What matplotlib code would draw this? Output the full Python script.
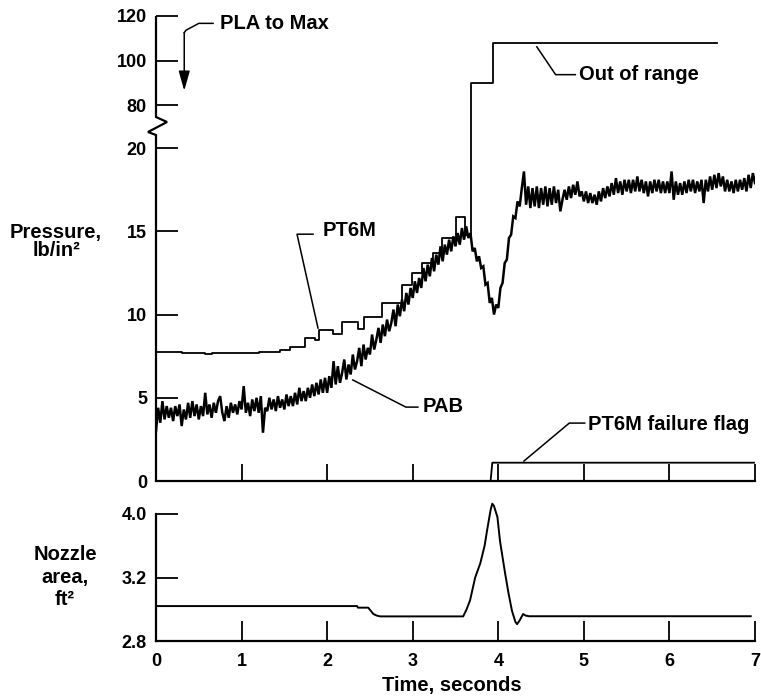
import numpy as np
import matplotlib
matplotlib.use("Agg")
import matplotlib.pyplot as plt
from matplotlib.patches import ArrowStyle

plt.rcParams['font.family'] = ['Liberation Sans', 'DejaVu Sans']
plt.rcParams['font.weight'] = 'bold'

# ---------------- data ----------------
time_ticks = [0, 1, 2, 3, 4, 5, 6, 7]
p_ticks = [0, 5, 10, 15, 20, 80, 100, 120]
n_ticks = [2.8, 3.2, 4.0]

# PAB (noisy trace), sampled every 0.025 s from 0 to 7 s
pab_v = [
    3.0, 4.4, 3.5, 4.8, 3.7, 4.5, 3.8, 4.4, 3.6, 4.5, 3.9, 4.6, 3.3, 4.3, 3.7, 4.7, 3.8, 4.8, 3.9, 4.6,
    3.7, 4.5, 3.9, 5.3, 4.0, 4.6, 3.8, 4.7, 4.1, 4.8, 5.1, 4.1, 3.6, 4.5, 3.8, 4.7, 4.1, 4.6, 4.0, 4.8,
    4.3, 5.7, 4.1, 4.7, 3.9, 4.9, 4.2, 5.0, 4.1, 5.1, 2.9, 4.4, 4.2, 5.0, 4.3, 4.9, 4.2, 5.1, 4.4, 4.9,
    4.3, 5.2, 4.5, 5.1, 4.5, 5.3, 4.6, 5.6, 4.8, 5.4, 4.8, 5.6, 5.0, 5.8, 5.1, 5.9, 5.2, 6.1, 5.3, 6.2,
    5.3, 6.3, 5.6, 7.2, 5.8, 6.9, 5.9, 6.5, 7.3, 6.1, 7.0, 6.4, 7.6, 6.7, 7.2, 8.0, 6.9, 8.2, 7.3, 8.0,
    7.6, 8.8, 7.9, 8.5, 9.2, 8.3, 9.4, 8.7, 9.7, 9.0, 9.5, 10.3, 9.3, 10.6, 9.9, 10.9, 10.2, 11.3, 10.6, 11.6,
    11.0, 12.0, 11.3, 12.2, 11.6, 12.8, 12.0, 13.0, 12.3, 13.4, 12.6, 13.6, 13.0, 14.1, 13.2, 14.2, 13.6, 14.5, 13.8, 14.7,
    14.1, 14.9, 14.2, 15.2, 14.5, 15.3, 14.6, 14.9, 13.8, 14.0, 13.2, 13.5, 12.8, 12.9, 11.8, 11.9, 10.7, 11.0, 10.0, 10.6,
    10.4, 11.6, 11.9, 13.1, 13.3, 14.6, 14.8, 15.9, 15.8, 16.8, 16.5, 17.6, 18.6, 16.6, 17.7, 16.4, 17.6, 16.5, 17.7, 16.4,
    17.6, 16.6, 17.7, 16.5, 17.6, 16.6, 17.7, 16.7, 17.5, 16.2, 16.9, 17.5, 16.9, 17.7, 17.0, 17.8, 17.2, 18.0, 17.1, 17.4,
    16.8, 17.4, 16.7, 17.3, 16.7, 17.2, 16.6, 17.4, 16.8, 17.6, 17.0, 17.7, 17.1, 17.9, 17.2, 18.2, 17.3, 18.0, 17.2, 18.1,
    17.4, 18.1, 17.3, 18.1, 17.4, 18.3, 17.4, 18.1, 17.3, 18.0, 17.1, 18.0, 17.3, 18.1, 17.4, 18.1, 17.3, 18.0, 17.3, 18.0,
    17.3, 18.6, 16.9, 18.0, 17.2, 17.9, 17.2, 18.0, 17.3, 18.1, 17.4, 18.1, 17.3, 18.0, 17.4, 18.1, 16.7, 18.1, 17.4, 18.3,
    17.5, 18.4, 17.6, 18.5, 17.7, 18.3, 17.4, 18.1, 17.4, 18.0, 17.3, 18.1, 17.4, 18.1, 17.5, 18.2, 17.4, 18.4, 17.6, 18.5,
    17.9,
]
pab_t = np.linspace(0, 7, len(pab_v))

# PT6M (stepped sensor trace, incl. out-of-range values)
pt6m_t = [0, 0.3, 0.57, 0.65, 0.9, 1.2, 1.45, 1.57, 1.74, 1.86, 1.91, 2.07, 2.17, 2.36, 2.43,
          2.64, 2.87, 2.99, 3.11, 3.24, 3.34, 3.50, 3.61, 3.68, 3.94, 6.56]
pt6m_v = [7.75, 7.72, 7.63, 7.68, 7.72, 7.75, 7.9, 8.05, 8.6, 8.45, 9.1, 8.85, 9.55, 9.15, 9.85,
          10.7, 11.8, 12.5, 13.1, 13.7, 14.6, 15.85, 14.8, 89.9, 107.8, 107.8]

# PT6M failure flag
flag_t = [0, 3.91, 3.93, 7.0]
flag_v = [0, 0, 1.1, 1.1]

# Nozzle area, ft^2
noz_t = [0, 2.35, 2.36, 2.48, 2.54, 2.58, 2.62, 3.59, 3.63, 3.67, 3.73, 3.79, 3.84, 3.87, 3.91,
         3.93, 3.95, 3.99, 4.02, 4.08, 4.12, 4.16, 4.20, 4.22, 4.25, 4.29, 4.32, 4.36, 6.95]
noz_v = [3.02, 3.02, 3.01, 3.01, 2.97, 2.96, 2.955, 2.955, 3.0, 3.056, 3.2, 3.38, 3.6, 3.80, 4.05,
         4.13, 4.10, 3.96, 3.66, 3.25, 3.1, 2.99, 2.92, 2.906, 2.93, 2.97, 2.96, 2.956, 2.956]

# ---------------- scales ----------------
def p_fwd(v):
    v = np.asarray(v, float)
    return np.where(v <= 20, v, np.where(v < 80, 20 + (v - 20) * (2.58 / 60), 22.58 + (v - 80) * 0.134))

def p_inv(m):
    m = np.asarray(m, float)
    return np.where(m <= 20, m, np.where(m < 22.58, 20 + (m - 20) * (60 / 2.58), 80 + (m - 22.58) / 0.134))

def n_fwd(v):
    v = np.asarray(v, float)
    return np.where(v < 3.2, (v - 2.8) / 0.4, 1 + (v - 3.2) / 0.8)

def n_inv(m):
    m = np.asarray(m, float)
    return np.where(m < 1, 2.8 + 0.4 * m, 3.2 + 0.8 * (m - 1))

W, H = 761, 698
fig = plt.figure(figsize=(W / 100, H / 100), dpi=100)

left = 156 / W
width = 599 / W
ax = fig.add_axes([left, 1 - 481 / H, width, 465 / H])
ax2 = fig.add_axes([left, 1 - 641 / H, width, 139.7 / H])

LW_SP = 1.6
TICKFS = 13
LABFS = 14.5

# ---- top panel ----
ax.set_yscale('function', functions=(p_fwd, p_inv))
ax.set_xlim(0, 7)
ax.set_ylim(0, 120)
ax.plot(pab_t, pab_v, color='black', lw=1.8, solid_joinstyle='miter')
ax.plot(pt6m_t, pt6m_v, color='black', lw=1.3, drawstyle='steps-post')
ax.plot(flag_t, flag_v, color='black', lw=1.3)

for s in ['top', 'right', 'left']:
    ax.spines[s].set_visible(False)
ax.spines['bottom'].set_linewidth(LW_SP)

ax.set_yticks(p_ticks)
ax.set_yticklabels([str(v) for v in p_ticks])
ax.minorticks_off()
ax.set_xticks(time_ticks[1:])
ax.tick_params(axis='x', direction='in', length=12.5, width=1.3, labelbottom=False)
ax.tick_params(axis='y', direction='in', length=15.8, width=1.3, pad=6.5, labelsize=TICKFS)
for lab in ax.get_yticklabels():
    lab.set_fontweight('bold')

# left spine with break zigzag (axes fraction coordinates)
def fr(py):
    return (481 - py) / 465

zx = [0, 0, -8 / 599, 11 / 599, 0, 0]
zy = [0, fr(135), fr(132), fr(122), fr(117), 1]
ax.plot(zx, zy, transform=ax.transAxes, color='black', lw=LW_SP, clip_on=False,
        solid_joinstyle='miter', solid_capstyle='butt')

# annotations
lk = dict(color='black', lw=1.1, clip_on=False)
# PLA to Max
ax.text(0.75, 116.7, 'PLA to Max', fontsize=LABFS, fontweight='bold', va='center', ha='left')
ax.plot([0.667, 0.50, 0.35, 0.33], [116.7, 116.7, 113.6, 112.5], **lk)
ax.annotate('', xy=(0.33, 86.5), xytext=(0.33, 112.6),
            arrowprops=dict(arrowstyle=ArrowStyle('-|>', head_length=0.6, head_width=0.17),
                            mutation_scale=20, color='black', lw=1.1, shrinkA=0, shrinkB=0))
# Out of range
ax.text(4.94, 93.7, 'Out of range', fontsize=LABFS, fontweight='bold', va='center', ha='left')
ax.plot([4.90, 4.67, 4.45], [93.7, 93.7, 106.2], **lk)
# PT6M
ax.text(1.95, 15.08, 'PT6M', fontsize=LABFS, fontweight='bold', va='center', ha='left')
ax.plot([1.835, 1.648, 1.893], [14.83, 14.83, 9.19], **lk)
# PAB
ax.text(3.11, 4.5, 'PAB', fontsize=LABFS, fontweight='bold', va='center', ha='left')
ax.plot([3.06, 2.92, 2.30], [4.44, 4.44, 6.07], **lk)
# failure flag
ax.text(5.05, 3.42, 'PT6M failure flag', fontsize=LABFS, fontweight='bold', va='center', ha='left')
ax.plot([5.01, 4.83, 4.30], [3.48, 3.48, 1.2], **lk)

# ---- bottom panel ----
ax2.set_yscale('function', functions=(n_fwd, n_inv))
ax2.set_xlim(0, 7)
ax2.set_ylim(2.8, 4.16)
ax2.plot(noz_t, noz_v, color='black', lw=1.4)
for s in ['top', 'right']:
    ax2.spines[s].set_visible(False)
ax2.spines['left'].set_bounds(2.8, 4.0)
ax2.spines['left'].set_linewidth(LW_SP)
ax2.spines['bottom'].set_linewidth(LW_SP)
ax2.set_yticks(n_ticks)
ax2.set_yticklabels(['2.8', '3.2', '4.0'])
ax2.minorticks_off()
ax2.set_xticks(time_ticks)
ax2.set_xticklabels([str(v) for v in time_ticks])
ax2.tick_params(axis='x', direction='in', length=14.5, width=1.3, pad=8.6, labelsize=TICKFS)
ax2.tick_params(axis='y', direction='in', length=15.8, width=1.3, pad=6.5, labelsize=TICKFS)
for lab in ax2.get_xticklabels() + ax2.get_yticklabels():
    lab.set_fontweight('bold')

# axis titles
fig.text(56 / W, 1 - 238 / H, 'Pressure,', fontsize=LABFS, fontweight='bold', ha='center', va='baseline')
fig.text(56 / W, 1 - 256 / H, 'lb/in²', fontsize=LABFS, fontweight='bold', ha='center', va='baseline')
fig.text(65 / W, 1 - 560 / H, 'Nozzle', fontsize=LABFS, fontweight='bold', ha='center', va='baseline')
fig.text(65 / W, 1 - 583 / H, 'area,', fontsize=LABFS, fontweight='bold', ha='center', va='baseline')
fig.text(65 / W, 1 - 605 / H, 'ft²', fontsize=LABFS, fontweight='bold', ha='center', va='baseline')
fig.text(452 / W, 1 - 686 / H, 'Time, seconds', fontsize=LABFS, fontweight='bold', ha='center', va='center')

fig.savefig('out.png', dpi=100)
